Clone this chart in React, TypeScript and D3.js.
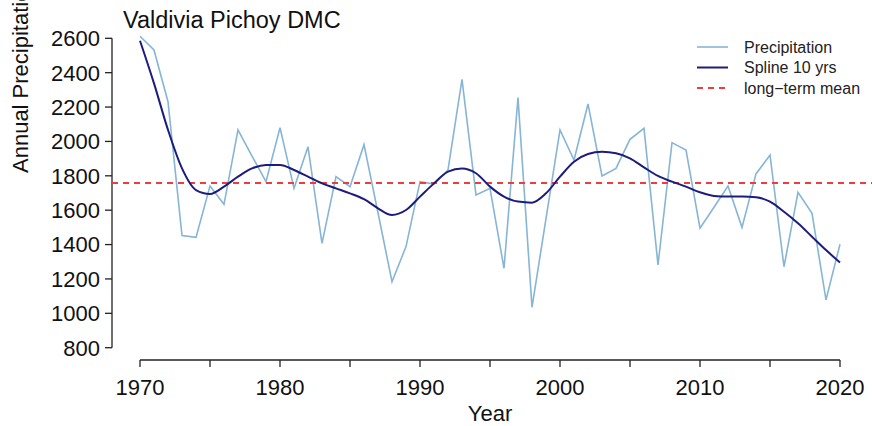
import React from "react";
import * as d3 from "d3";

// annual precipitation (mm)
const years = d3.range(1970, 2021);
const precip = [
  2612, 2532, 2231, 1452, 1442, 1741, 1634, 2067, 1915, 1766,
  2080, 1727, 1969, 1407, 1795, 1737, 1981, 1585, 1184, 1388,
  1766, 1752, 1834, 2361, 1688, 1727, 1262, 2255, 1035, 1551,
  2067, 1892, 2218, 1799, 1843, 2012, 2076, 1281, 1993, 1950,
  1495, 1617, 1741, 1500, 1811, 1921, 1271, 1704, 1582, 1078,
  1402,
];
// 10 year spline
const spline = [
  2586, 2338, 2067, 1843, 1717, 1694, 1737, 1795, 1843, 1863,
  1863, 1834, 1795, 1756, 1727, 1698, 1664, 1611, 1572, 1601,
  1679, 1756, 1824, 1843, 1815, 1737, 1679, 1650, 1644, 1698,
  1795, 1882, 1927, 1940, 1931, 1902, 1849, 1799, 1766, 1737,
  1704, 1683, 1679, 1679, 1675, 1650, 1591, 1524, 1446, 1368,
  1295,
];
const longTermMean = 1758;
const yTicks = [800, 1000, 1200, 1400, 1600, 1800, 2000, 2200, 2400, 2600];
const xTicks = [1970, 1975, 1980, 1985, 1990, 1995, 2000, 2005, 2010, 2015, 2020];
const xLabels = [1970, 1980, 1990, 2000, 2010, 2020];
const legendItems = ["Precipitation", "Spline 10 yrs", "long\u2212term mean"];

const COL_PRECIP = "#86b5d6";
const COL_SPLINE = "#1c1c7e";
const COL_MEAN = "#f03c3c";
const FONT = "'Liberation Sans', Arial, sans-serif";

export default function App() {
  const width = 872;
  const height = 426;

  const x = d3.scaleLinear().domain([1970, 2020]).range([140, 840]);
  const y = d3.scaleLinear().domain([800, 2600]).range([347.7, 38.3]);

  const precipLine = d3
    .line<number>()
    .x((_, i) => x(years[i]))
    .y((d) => y(d));
  const splineLine = d3
    .line<number>()
    .x((_, i) => x(years[i]))
    .y((d) => y(d))
    .curve(d3.curveMonotoneX);

  const axisX = 112;
  const axisY = 360;

  return (
    <svg
      width={width}
      height={height}
      style={{ position: "absolute", left: 0, top: 0, background: "#fff" }}
      fontFamily={FONT}
    >
      {/* y axis */}
      <line x1={axisX} x2={axisX} y1={y(800)} y2={y(2600)} stroke="#222" strokeWidth={1.3} />
      {yTicks.map((t) => (
        <g key={t}>
          <line x1={axisX - 7} x2={axisX} y1={y(t)} y2={y(t)} stroke="#222" strokeWidth={1.3} />
          <text x={100} y={y(t)} dy="0.36em" textAnchor="end" fontSize={22} fill="#111">
            {t}
          </text>
        </g>
      ))}
      {/* label runs off the top edge, as in the source figure */}
      <text
        transform={`translate(28,173) rotate(-90)`}
        fontSize={22}
        fill="#111"
        textAnchor="start"
      >
        Annual Precipitation (mm)
      </text>

      {/* x axis */}
      <line x1={x(1970)} x2={x(2020)} y1={axisY} y2={axisY} stroke="#222" strokeWidth={1.3} />
      {xTicks.map((t) => (
        <line key={t} x1={x(t)} x2={x(t)} y1={axisY} y2={axisY + 7} stroke="#222" strokeWidth={1.3} />
      ))}
      {xLabels.map((t) => (
        <text key={t} x={x(t)} y={395} textAnchor="middle" fontSize={22} fill="#111">
          {t}
        </text>
      ))}
      <text x={(x(1970) + x(2020)) / 2} y={421} textAnchor="middle" fontSize={22} fill="#111">
        Year
      </text>

      {/* title */}
      <text x={123} y={28} fontSize={23.5} fill="#111">
        Valdivia Pichoy DMC
      </text>

      {/* series */}
      <path d={precipLine(precip) ?? ""} fill="none" stroke={COL_PRECIP} strokeWidth={1.6} />
      <line
        x1={axisX}
        x2={width}
        y1={y(longTermMean)}
        y2={y(longTermMean)}
        stroke={COL_MEAN}
        strokeWidth={2}
        strokeDasharray="6,5"
      />
      <path d={splineLine(spline) ?? ""} fill="none" stroke={COL_SPLINE} strokeWidth={2} />

      {/* legend */}
      {legendItems.map((label, i) => {
        const ly = 47 + i * 20.5;
        const stroke = i === 0 ? COL_PRECIP : i === 1 ? COL_SPLINE : COL_MEAN;
        return (
          <g key={label}>
            <line
              x1={697}
              x2={728}
              y1={ly}
              y2={ly}
              stroke={stroke}
              strokeWidth={i === 0 ? 1.6 : 2}
              strokeDasharray={i === 2 ? "6,5" : undefined}
            />
            <text x={744} y={ly} dy="0.36em" fontSize={16} fill="#222">
              {label}
            </text>
          </g>
        );
      })}
    </svg>
  );
}
